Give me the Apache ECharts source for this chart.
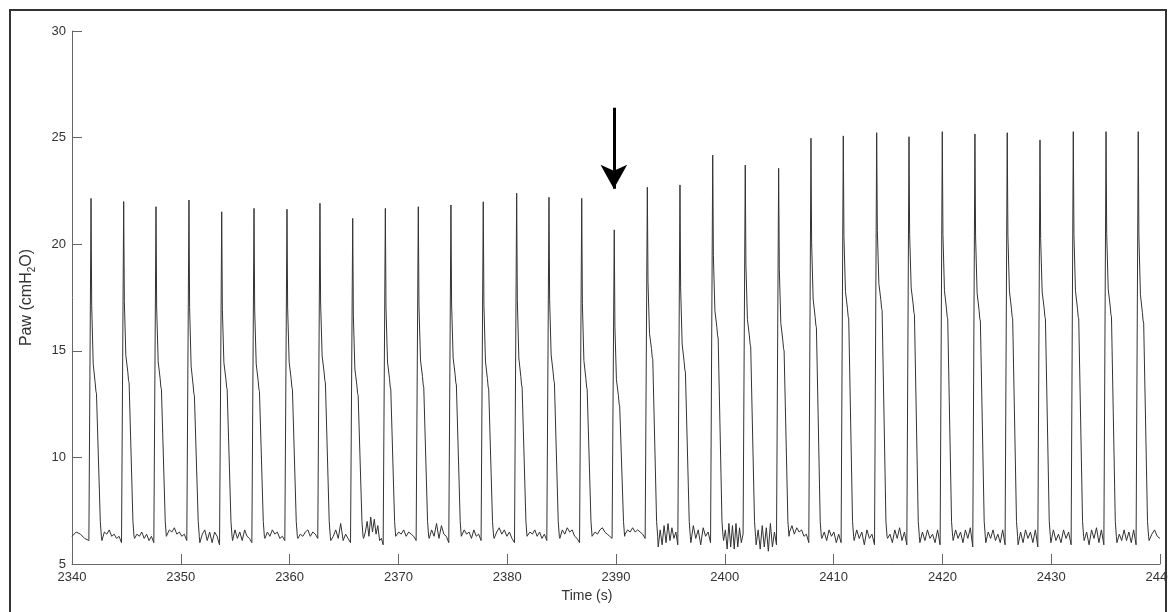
<!DOCTYPE html>
<html>
<head>
<meta charset="utf-8">
<script src="https://cdn.jsdelivr.net/npm/echarts@6/dist/echarts.min.js"></script>
<style>
html,body{margin:0;padding:0;background:#fff;}
#chart{width:1168px;height:612px;}
</style>
</head>
<body>
<div id="chart"></div>
<script>
// ---- data ----
const xRange = [2340, 2440];
const yRange = [5, 30];
const peakTime = [2341.75, 2344.75, 2347.72, 2350.75, 2353.76, 2356.73, 2359.76, 2362.79, 2365.80, 2368.80, 2371.83,
  2374.83, 2377.80, 2380.87, 2383.84, 2386.85, 2389.84, 2392.88, 2395.88, 2398.89, 2401.88, 2404.95,
  2407.92, 2410.89, 2413.96, 2416.93, 2419.99, 2422.99, 2425.96, 2428.97, 2432.03, 2435.04, 2438.00];
const peakPaw = [22.15, 22.0, 21.76, 22.07, 21.52, 21.68, 21.64, 21.92, 21.21, 21.68, 21.76,
  21.84, 21.99, 22.39, 22.2, 22.15, 20.67, 22.67, 22.78, 24.18, 23.71, 23.56,
  24.97, 25.08, 25.23, 25.04, 25.28, 25.17, 25.23, 24.89, 25.28, 25.28, 25.28];
const shoulderPaw = [13.0, 13.5, 13.2, 12.9, 13.2, 13.1, 13.2, 13.5, 12.9, 13.2, 13.3,
  13.4, 13.2, 13.3, 13.5, 13.2, 12.4, 14.6, 14.0, 15.6, 15.2, 15.0,
  16.1, 16.5, 16.9, 16.7, 16.5, 16.4, 16.5, 16.5, 16.5, 16.6, 16.3];
// baseline (PEEP) samples: before first breath, between breaths, after last breath
const baselinePaw = [
  [6.3, 6.5, 6.4, 6.2, 6.1],
  [6.1, 6.5, 6.4, 6.6, 6.3, 6.4, 6.2, 6.3, 6.0],
  [6.2, 6.4, 6.3, 6.5, 6.2, 6.4, 6.1, 6.3, 6.0],
  [6.3, 6.6, 6.5, 6.7, 6.4, 6.5, 6.3, 6.4, 6.1],
  [6.0, 6.4, 6.6, 6.1, 6.5, 6.0, 6.5, 6.3, 5.9],
  [6.1, 6.6, 6.2, 6.5, 6.1, 6.6, 6.3, 6.2, 6.0],
  [6.2, 6.5, 6.3, 6.6, 6.4, 6.5, 6.2, 6.3, 6.1],
  [6.2, 6.4, 6.3, 6.5, 6.6, 6.3, 6.5, 6.4, 6.2],
  [6.1, 6.3, 6.6, 6.2, 6.9, 6.1, 6.4, 6.2, 6.0],
  [6.2, 6.5, 7.0, 6.3, 7.2, 6.5, 7.1, 6.4, 6.8, 6.1, 6.2, 5.9],
  [6.3, 6.5, 6.4, 6.6, 6.3, 6.5, 6.4, 6.3, 6.1],
  [6.2, 6.6, 6.3, 6.9, 6.2, 6.8, 6.4, 6.3, 6.0],
  [6.3, 6.6, 6.4, 6.5, 6.2, 6.6, 6.3, 6.4, 6.1],
  [6.2, 6.5, 6.7, 6.4, 6.6, 6.3, 6.5, 6.2, 6.0],
  [6.3, 6.5, 6.4, 6.6, 6.3, 6.5, 6.2, 6.4, 6.1],
  [6.2, 6.6, 6.4, 6.7, 6.5, 6.6, 6.3, 6.2, 6.0],
  [6.3, 6.5, 6.4, 6.6, 6.7, 6.5, 6.4, 6.3, 6.2],
  [6.4, 6.6, 6.5, 6.7, 6.5, 6.6, 6.5, 6.4, 6.2],
  [5.8, 6.6, 5.9, 6.8, 6.0, 6.9, 6.1, 6.7, 6.2, 6.5, 5.9],
  [6.0, 6.8, 6.2, 6.6, 5.9, 6.7, 6.3, 6.5, 6.0],
  [6.1, 6.6, 5.7, 6.9, 5.8, 6.8, 5.7, 6.9, 5.8, 6.7, 6.0, 6.4],
  [5.9, 6.6, 5.7, 6.8, 5.8, 6.7, 5.6, 6.9, 5.8, 6.5, 5.9],
  [6.5, 6.8, 6.4, 6.7, 6.5, 6.6, 6.3, 6.4, 6.0],
  [6.2, 6.5, 6.1, 6.6, 6.3, 6.5, 6.0, 6.4, 6.0],
  [6.1, 6.6, 6.2, 6.5, 5.9, 6.6, 6.2, 6.4, 5.9],
  [6.2, 6.4, 6.0, 6.6, 6.2, 6.7, 6.1, 6.5, 5.9],
  [6.0, 6.5, 6.1, 6.6, 6.2, 6.4, 6.0, 6.6, 5.9],
  [6.1, 6.6, 6.2, 6.5, 6.0, 6.6, 6.2, 6.7, 5.8],
  [6.0, 6.5, 6.2, 6.6, 6.1, 6.4, 6.0, 6.6, 5.9],
  [5.9, 6.5, 6.0, 6.6, 6.2, 6.5, 6.0, 6.6, 5.8],
  [6.0, 6.6, 6.1, 6.4, 6.0, 6.6, 6.2, 6.5, 5.9],
  [6.1, 6.5, 5.9, 6.6, 6.2, 6.7, 6.0, 6.6, 5.9],
  [6.0, 6.4, 6.1, 6.6, 6.1, 6.5, 6.0, 6.6, 5.9],
  [6.1, 6.4, 6.6, 6.3, 6.2]
];
const arrowTime = 2389.8;
const arrowFrom = 26.4;
const arrowTo = 22.6;

// ---- assemble waveform from the values above ----
function gapPoints(vals, t0, t1, out) {
  const n = vals.length;
  for (let j = 0; j < n; j++) {
    out.push([t0 + (t1 - t0) * j / (n - 1), vals[j]]);
  }
}
const pts = [];
gapPoints(baselinePaw[0], xRange[0], peakTime[0] - 0.2, pts);
for (let i = 0; i < peakTime.length; i++) {
  const tp = peakTime[i], P = peakPaw[i], S = shoulderPaw[i];
  pts.push([tp, P]);
  pts.push([tp + 0.06, S + 0.45 * (P - S)]);
  pts.push([tp + 0.2, S + 0.15 * (P - S)]);
  pts.push([tp + 0.38, S + 0.5]);
  pts.push([tp + 0.45, S + 0.1]);
  pts.push([tp + 0.5, S]);
  pts.push([tp + 0.85, 7.0]);
  pts.push([tp + 0.95, 6.3]);
  const tEnd = (i + 1 < peakTime.length) ? peakTime[i + 1] - 0.2 : xRange[1];
  gapPoints(baselinePaw[i + 1], tp + 1.0, tEnd, pts);
}

const chart = echarts.init(document.getElementById('chart'), null, {renderer: 'canvas'});
const FONT = 'Liberation Sans, Arial, Helvetica, sans-serif';
chart.setOption({
  animation: false,
  backgroundColor: '#fff',
  graphic: [{
    type: 'rect',
    shape: {x: 10, y: 10, width: 1156, height: 700},
    style: {fill: 'none', stroke: '#333', lineWidth: 2},
    silent: true
  }],
  grid: {left: 72, right: 8, top: 31, bottom: 48, containLabel: false, outerBoundsMode: 'none'},
  xAxis: {
    type: 'value',
    min: xRange[0], max: xRange[1], interval: 10,
    name: 'Time (s)',
    nameLocation: 'middle',
    nameGap: 25,
    nameTextStyle: {fontFamily: FONT, fontSize: 14, color: '#333', padding: [0, 58, 0, 0]},
    axisLine: {show: true, lineStyle: {color: '#666', width: 1}},
    axisTick: {show: true, inside: true, length: 10, lineStyle: {color: '#666'}},
    axisLabel: {fontFamily: FONT, fontSize: 13, color: '#333', margin: 7, formatter: function (v) { return String(v); }},
    splitLine: {show: false}
  },
  yAxis: {
    type: 'value',
    min: yRange[0], max: yRange[1], interval: 5,
    name: '{a|Paw (cmH}{s|2}{a|O)}',
    nameLocation: 'middle',
    nameGap: 34,
    nameRotate: 90,
    nameTextStyle: {
      fontFamily: FONT, fontSize: 16, color: '#333',
      rich: {
        a: {fontFamily: FONT, fontSize: 16, color: '#333', lineHeight: 19, verticalAlign: 'top'},
        s: {fontFamily: FONT, fontSize: 10, color: '#333', lineHeight: 12, verticalAlign: 'top', padding: [8, 0, 0, 0]}
      }
    },
    axisLine: {show: true, lineStyle: {color: '#666', width: 1}},
    axisTick: {show: true, inside: true, length: 10, lineStyle: {color: '#666'}},
    axisLabel: {fontFamily: FONT, fontSize: 13, color: '#333', margin: 6},
    splitLine: {show: false}
  },
  series: [{
    type: 'line',
    data: pts,
    showSymbol: false,
    symbol: 'none',
    lineStyle: {color: '#333', width: 1},
    clip: true,
    markLine: {
      silent: true,
      symbol: ['none', 'arrow'],
      symbolSize: [20, 24],
      label: {show: false},
      lineStyle: {color: '#000', width: 3, type: 'solid'},
      data: [[{coord: [arrowTime, arrowFrom]}, {coord: [arrowTime, arrowTo]}]]
    }
  }]
});
</script>
</body>
</html>
